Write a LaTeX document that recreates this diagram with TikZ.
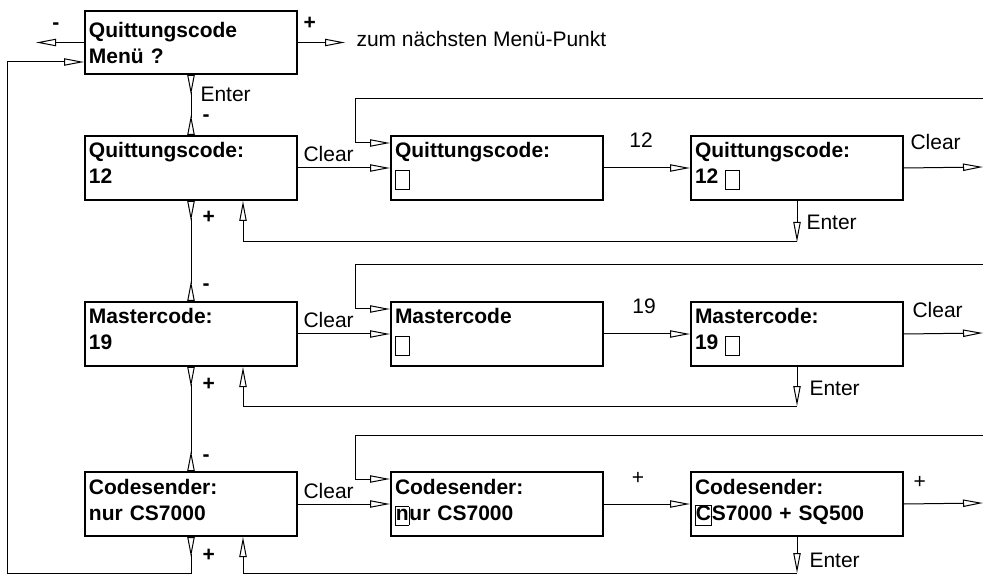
\documentclass[tikz,border=0pt]{standalone}
\usepackage{fontspec}
\setmainfont{Liberation Sans}
\usetikzlibrary{arrows.meta,positioning,calc}

\tikzset{
  pfeil/.tip={Triangle[open,length=15pt,width=5.5pt]},
  rpfeil/.tip={Triangle[open,reversed,length=15pt,width=5.5pt]},
  screen/.style={draw, line width=1.5pt, anchor=north west, inner xsep=3pt,
    inner ysep=0pt, text width=153pt, text height=16.5pt, text depth=31.5pt,
    align=left, font=\bfseries\fontsize{15.75}{19.5}\selectfont},
  lbl/.style={inner sep=0pt, anchor=base west,
    font=\fontsize{15.75}{19}\selectfont},
  sign/.style={lbl, font=\bfseries\fontsize{15.75}{19}\selectfont},
}

% Eingabemarke
\newcommand{\cursorbox}[1]{{\setlength{\fboxsep}{0pt}\setlength{\fboxrule}{0.6pt}%
  \fbox{\rule[-3.75pt]{0pt}{13.5pt}#1}}}
\newcommand{\emptycursor}{\cursorbox{\hspace*{9.75pt}}}

\begin{document}
\begin{tikzpicture}[x=0.75pt, y=-0.75pt, line width=0.75pt]
\useasboundingbox (0,0) rectangle (983,574);

% Menue
\node[screen, text height=20.25pt, text depth=27pt] (menu) at (84,10)
  {Quittungscode\\Menü ?};
\coordinate (prev) at ($(menu.west)+(-48,0)$);
\coordinate (next) at ($(menu.east)+(47,0)$);
\draw[-pfeil] (menu.west) -- (prev);
\draw[-pfeil] (menu.east) -- (next);
\node[sign] (minus0) at (52,30) {-};
\node[sign] (plus0) at (303,30) {+};
\node[lbl] (weiter) at (356,47) {zum nächsten Menü-Punkt};

% Quittungscode
\node[screen] (q1) at (84,135) {Quittungscode:\\12};
\node[screen] (q2) at (390,135) {Quittungscode:\\\emptycursor};
\node[screen] (q3) at (690,135) {Quittungscode:\\12 \emptycursor};

% Mastercode
\node[screen] (m1) at (84,301) {Mastercode:\\19};
\node[screen] (m2) at (390,301) {Mastercode\\\emptycursor};
\node[screen] (m3) at (690,301) {Mastercode:\\19 \emptycursor};

% Codesender
\node[screen] (c1) at (84,471) {Codesender:\\nur CS7000};
\node[screen] (c2) at (390,471) {Codesender:\\\cursorbox{n}ur CS7000};
\node[screen] (c3) at (690,471) {Codesender:\\\cursorbox{C}S7000 + SQ500};

% senkrechte Kette
\draw[rpfeil-rpfeil] (menu.south) -- (q1.north);
\draw[rpfeil-rpfeil] (q1.south) -- (m1.north);
\draw[rpfeil-rpfeil] (m1.south) -- (c1.north);
\coordinate (back) at (7,573);
\draw[rpfeil-pfeil] (c1.south) |- (back) |- ($(menu.south west)+(0,-13)$);
\node[lbl] (enter0) at (200,102) {Enter};
\node[sign] (minusq) at (202,122) {-};
\node[sign] (plusq) at (202,224) {+};
\node[sign] (minusm) at (202,291) {-};
\node[sign] (plusm) at (202,390) {+};
\node[sign] (minusc) at (202,461) {-};
\node[sign] (plusc) at (202,561) {+};

% Zeile Quittungscode
\coordinate (qin) at (983,99);
\coordinate (qout) at (983,167);
\coordinate (qenter) at ($(q3.south)+(0,41)$);
\draw[-pfeil] (q1.east) -- (q2.west);
\draw[-pfeil] (q2.east) -- (q3.west);
\draw[-pfeil] (q3.east) -- (qout);
\draw[-pfeil] (qin) -| ($(q2.north west)+(-35,8)$) -- ($(q2.north west)+(0,8)$);
\draw[-pfeil] (q3.south) -- (qenter);
\draw[-pfeil] (qenter) -| ($(q1.south west)+(159,0)$);
\node[lbl] (clearq) at (303,162) {Clear};
\node[lbl, anchor=base] (zwoelf) at (641,148) {12};
\node[lbl] (clearq3) at (910,150) {Clear};
\node[lbl] (enterq) at (806,230) {Enter};

% Zeile Mastercode
\coordinate (min) at (983,265);
\coordinate (mout) at (983,333);
\coordinate (menter) at ($(m3.south)+(0,39)$);
\draw[-pfeil] (m1.east) -- (m2.west);
\draw[-pfeil] (m2.east) -- (m3.west);
\draw[-pfeil] (m3.east) -- (mout);
\draw[-pfeil] (min) -| ($(m2.north west)+(-35,8)$) -- ($(m2.north west)+(0,8)$);
\draw[-pfeil] (m3.south) -- (menter);
\draw[-pfeil] (menter) -| ($(m1.south west)+(159,0)$);
\node[lbl] (clearm) at (303,328) {Clear};
\node[lbl, anchor=base] (neunzehn) at (644,314) {19};
\node[lbl] (clearm3) at (912,318) {Clear};
\node[lbl] (enterm) at (809,396) {Enter};

% Zeile Codesender
\coordinate (cin) at (983,435);
\coordinate (cout) at (983,503);
\coordinate (center) at (c3.south |- back);
\draw[-pfeil] (c1.east) -- (c2.west);
\draw[-pfeil] (c2.east) -- (c3.west);
\draw[-pfeil] (c3.east) -- (cout);
\draw[-pfeil] (cin) -| ($(c2.north west)+(-35,8)$) -- ($(c2.north west)+(0,8)$);
\draw[-pfeil] (c3.south) -- (center);
\draw[-pfeil] (center) -| ($(c1.south west)+(159,0)$);
\node[lbl] (clearc) at (303,498) {Clear};
\node[lbl, anchor=base] (plusc2) at (638,484) {+};
\node[lbl] (plusc3) at (913,488) {+};
\node[lbl] (enterc) at (809,567) {Enter};
\end{tikzpicture}
\end{document}
